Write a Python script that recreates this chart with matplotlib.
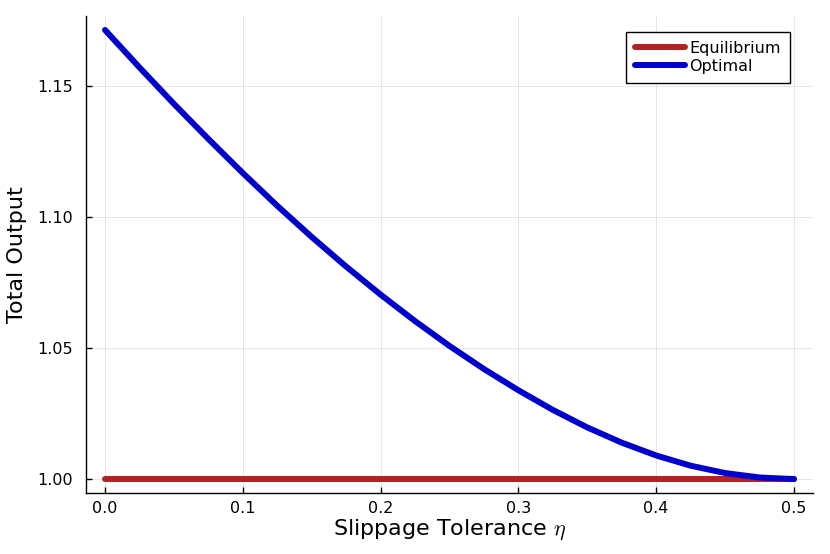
import matplotlib
matplotlib.use("Agg")
from matplotlib import pyplot as plt

plt.rcParams["mathtext.fontset"] = "cm"

# slippage tolerance values (x) and total output
eta = [0.0, 0.025, 0.05, 0.075, 0.1, 0.125, 0.15, 0.175, 0.2, 0.225, 0.25,
       0.275, 0.3, 0.325, 0.35, 0.375, 0.4, 0.425, 0.45, 0.475, 0.5]
optimal = [1.1714, 1.1571, 1.1432, 1.1298, 1.1168, 1.1043, 1.0924, 1.0811,
           1.0704, 1.0603, 1.0508, 1.0420, 1.0339, 1.0264, 1.0197, 1.0139,
           1.0090, 1.0051, 1.0023, 1.0006, 1.0000]
equilibrium = [1.0] * len(eta)

x_ticks = [0.0, 0.1, 0.2, 0.3, 0.4, 0.5]
x_tick_labels = ["0.0", "0.1", "0.2", "0.3", "0.4", "0.5"]
y_ticks = [1.00, 1.05, 1.10, 1.15]
y_tick_labels = ["1.00", "1.05", "1.10", "1.15"]

fig = plt.figure(figsize=(8.3, 5.54), dpi=100)
ax = fig.add_axes([0.1036, 0.110, 0.8759, 0.861])

ax.plot(eta, equilibrium, color="#B22222", linewidth=4.3, solid_capstyle="round", label="Equilibrium")
ax.plot(eta, optimal, color="#0000CD", linewidth=4.3, solid_capstyle="round", label="Optimal")

ax.set_xlim(-0.0138, 0.5138)
ax.set_ylim(0.99466, 1.1767)
ax.set_xticks(x_ticks)
ax.set_xticklabels(x_tick_labels)
ax.set_yticks(y_ticks)
ax.set_yticklabels(y_tick_labels)

ax.grid(True, color="black", alpha=0.1, linewidth=0.7)
ax.set_axisbelow(True)
for side in ["top", "right"]:
    ax.spines[side].set_visible(False)
for side in ["left", "bottom"]:
    ax.spines[side].set_linewidth(1.0)
ax.tick_params(direction="in", length=4, width=1, labelsize=11.5)
ax.tick_params(axis="x", pad=6)
ax.tick_params(axis="y", pad=9.5)

ax.set_xlabel(r"Slippage Tolerance $\eta$", fontsize=16, labelpad=1)
ax.set_ylabel("Total Output", fontsize=16, labelpad=7)

leg = ax.legend(loc="upper right", fontsize=11.5, frameon=True, fancybox=False,
                edgecolor="black", framealpha=1, handlelength=3.1,
                handletextpad=0.3, borderpad=0.55, labelspacing=0.2,
                borderaxespad=0, bbox_to_anchor=(0.968, 0.9665))
leg.get_frame().set_linewidth(1.0)

fig.savefig("out.png", dpi=100)
